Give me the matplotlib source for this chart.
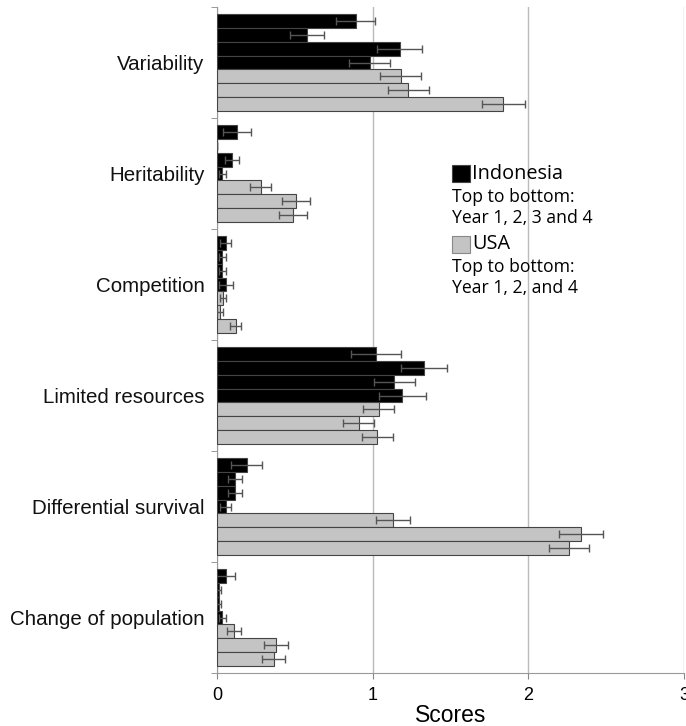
import numpy as np
import matplotlib.pyplot as plt
from matplotlib.patches import Rectangle

# -------------------------
# Data
# -------------------------
categories = ['Variability', 'Heritability', 'Competition',
              'Limited resources', 'Differential survival', 'Change of population']

# Indonesia: years 1, 2, 3, 4 (top to bottom in each group)
indo_year1 = [0.89, 0.13, 0.055, 1.02, 0.19, 0.055]
indo_year2 = [0.58, 0.00, 0.035, 1.33, 0.115, 0.01]
indo_year3 = [1.175, 0.095, 0.035, 1.14, 0.115, 0.01]
indo_year4 = [0.98, 0.035, 0.055, 1.19, 0.055, 0.035]
indo_err1 = [0.125, 0.09, 0.035, 0.16, 0.10, 0.06]
indo_err2 = [0.11, 0.0, 0.025, 0.15, 0.045, 0.015]
indo_err3 = [0.145, 0.045, 0.025, 0.13, 0.045, 0.015]
indo_err4 = [0.13, 0.025, 0.045, 0.15, 0.035, 0.025]

# USA: years 1, 2, 4
usa_year1 = [1.18, 0.28, 0.04, 1.04, 1.13, 0.11]
usa_year2 = [1.23, 0.51, 0.02, 0.91, 2.34, 0.38]
usa_year4 = [1.84, 0.49, 0.12, 1.03, 2.26, 0.365]
usa_err1 = [0.13, 0.065, 0.02, 0.10, 0.11, 0.045]
usa_err2 = [0.13, 0.09, 0.02, 0.10, 0.14, 0.075]
usa_err4 = [0.14, 0.09, 0.035, 0.10, 0.13, 0.075]

xticks = [0, 1, 2, 3]

series = [
    (indo_year1, indo_err1, 'black'),
    (indo_year2, indo_err2, 'black'),
    (indo_year3, indo_err3, 'black'),
    (indo_year4, indo_err4, 'black'),
    (usa_year1, usa_err1, '#c4c4c4'),
    (usa_year2, usa_err2, '#c4c4c4'),
    (usa_year4, usa_err4, '#c4c4c4'),
]

# -------------------------
# Plotting
# -------------------------
plt.rcParams['font.family'] = ['Liberation Sans', 'DejaVu Sans']
legend_font = ['Open Sans', 'DejaVu Sans']

fig = plt.figure(figsize=(6.86, 7.26), dpi=100)
ax = fig.add_axes([217 / 686, 1 - 673 / 726, 467 / 686, 666 / 726])

slot = 1 / 8
y_base = np.arange(len(categories))
for j, (vals, errs, col) in enumerate(series):
    y = y_base + (j - 3) * slot
    ax.barh(y, vals, height=slot, color=col, edgecolor='#444444',
            linewidth=0.8, zorder=3)
    ax.errorbar(vals, y, xerr=errs, fmt='none', ecolor='#555555',
                elinewidth=1, capsize=3, capthick=1, zorder=4)

ax.set_xlim(0, 3)
ax.set_ylim(len(categories) - 0.5, -0.5)
ax.set_xticks(xticks)
ax.set_xticklabels([str(t) for t in xticks], fontsize=13)
ax.set_yticks(y_base)
ax.set_yticklabels(categories, fontsize=14.8, color='#111111')
ax.set_yticks(np.arange(len(categories) + 1) - 0.5, minor=True)
ax.tick_params(axis='y', which='major', length=0, pad=9)
ax.tick_params(axis='y', which='minor', length=4, color='#888888')
ax.tick_params(axis='x', length=4, color='#888888', pad=6)
ax.set_xlabel('Scores', fontsize=16.5, labelpad=0)

ax.grid(axis='x', color='#bbbbbb', linewidth=1, zorder=0)
for s in ['top', 'right']:
    ax.spines[s].set_visible(False)
for s in ['left', 'bottom']:
    ax.spines[s].set_color('#999999')

# Legend as text blocks
def fy(py):
    return (673 - py) / 666

lx = (452 - 217) / 467
sw = 18 / 467
sh = 17 / 666
ax.add_patch(Rectangle((lx, fy(182)), sw, sh, transform=ax.transAxes,
                       facecolor='black', edgecolor='#444444', lw=0.8,
                       clip_on=False))
ax.text(lx + sw + 0.004, fy(174), 'Indonesia', transform=ax.transAxes,
        fontsize=14.3, va='center', ha='left', family=legend_font)
ax.text(lx, fy(197), 'Top to bottom:', transform=ax.transAxes,
        fontsize=12.7, va='center', ha='left', family=legend_font)
ax.text(lx, fy(218), 'Year 1, 2, 3 and 4', transform=ax.transAxes,
        fontsize=12.7, va='center', ha='left', family=legend_font)
ax.add_patch(Rectangle((lx, fy(253)), sw, sh, transform=ax.transAxes,
                       facecolor='#c4c4c4', edgecolor='#888888', lw=0.8,
                       clip_on=False))
ax.text(lx + sw + 0.004, fy(244), 'USA', transform=ax.transAxes,
        fontsize=14.3, va='center', ha='left', family=legend_font)
ax.text(lx, fy(267), 'Top to bottom:', transform=ax.transAxes,
        fontsize=12.7, va='center', ha='left', family=legend_font)
ax.text(lx, fy(288), 'Year 1, 2, and 4', transform=ax.transAxes,
        fontsize=12.7, va='center', ha='left', family=legend_font)

fig.savefig('out.png', dpi=100)
